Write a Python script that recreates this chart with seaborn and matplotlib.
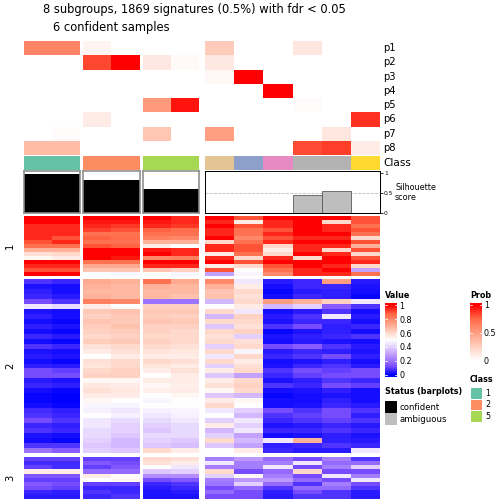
import numpy as np
import matplotlib
matplotlib.use("Agg")
import matplotlib.pyplot as plt
from matplotlib.colors import LinearSegmentedColormap, ListedColormap
from matplotlib.patches import Rectangle
import seaborn as sns

# ---- data ----
title_1 = "8 subgroups, 1869 signatures (0.5%) with fdr < 0.05"
title_2 = "6 confident samples"
prob_labels = ["p1", "p2", "p3", "p4", "p5", "p6", "p7", "p8"]
prob = [
    [.62, .62, .06, 0, 0, 0, .27, 0, 0, .13, 0, 0],
    [0, 0, .83, 1.0, .12, .03, .12, 0, 0, 0, 0, 0],
    [0, 0, 0, 0, 0, 0, .04, 1.0, 0, 0, 0, 0],
    [0, 0, 0, 0, 0, 0, 0, 0, 1.0, 0, 0, 0],
    [0, 0, 0, 0, .52, .95, 0, 0, 0, .02, 0, 0],
    [0, 0, .1, 0, 0, 0, 0, 0, 0, 0, 0, .88],
    [0, .02, 0, 0, .3, 0, .5, 0, 0, 0, .13, 0],
    [.35, .35, 0, 0, 0, 0, 0, 0, 0, .82, .85, .1],
]
sample_class = [1, 1, 2, 2, 5, 5, 7, 3, 4, 8, 8, 6]
silhouette = [.98, .98, .83, .83, .61, .61, 0, 0, 0, .45, .56, 0]
status = ["confident"] * 6 + ["ambiguous"] * 6
col_groups = [[0, 1], [2, 3], [4, 5], [6, 7, 8, 9, 10, 11]]
row_group_labels = ["1", "2", "3"]
legend_classes = ["1", "2", "5"]
value_ticks = [0, 0.2, 0.4, 0.6, 0.8, 1]
prob_ticks = [0, 0.5, 1]

rows_g1 = [
    [1.0, 1.0, 1.0, 1.0, 1.0, .95, 1.0, .9, 1.0, 1.0, 1.0, .9],
    [1.0, 1.0, .97, .97, .97, .95, .95, .55, .95, 1.0, .6, .9],
    [.95, .95, .95, .93, .95, .93, 1.0, .9, .95, 1.0, .95, .85],
    [.95, .95, .92, .9, .88, .86, .95, .85, .9, 1.0, .95, .9],
    [.95, .95, .85, .85, .85, .85, .95, .85, .95, 1.0, 1.0, .85],
    [.95, .9, .88, .86, .82, .8, 1.0, .8, .9, .95, .95, .6],
    [.9, .95, .85, .85, .7, .7, .6, .85, .95, 1.0, 1.0, .9],
    [.85, .85, .9, .88, .55, .5, .95, .9, .6, .95, .95, .7],
    [.7, .7, 1.0, 1.0, .97, .95, .95, .9, .55, .95, .6, .9],
    [.58, .6, 1.0, 1.0, 1.0, .95, .55, .85, .6, 1.0, .95, .6],
    [.52, .55, 1.0, .97, .8, .82, .95, .6, .95, .6, 1.0, .9],
    [1.0, 1.0, .85, .85, 1.0, 1.0, 1.0, .9, 1.0, 1.0, 1.0, .95],
    [.95, .95, .72, .72, .95, .95, .55, .6, .9, 1.0, .95, .6],
    [.9, .9, .65, .65, .65, .62, .9, .5, .85, .95, 1.0, .3],
    [1.0, 1.0, .5, .48, .5, .48, .3, .48, .8, .95, .95, .85],
]
rows_g2 = [
    [.08, .06, .72, .7, .85, .72, .8, .45, .04, .06, .75, .04],
    [.03, .02, .7, .68, .7, .68, .7, .55, .02, .06, .06, .03],
    [.05, .02, .68, .68, .68, .68, .65, .6, .01, .04, .05, .02],
    [.06, .04, .7, .68, .68, .66, .66, .58, .02, .06, .05, .01],
    [.12, .08, .82, .8, .2, .2, .35, .6, .75, .7, .62, .45],
    [.45, .42, .55, .5, .62, .62, .5, .55, .35, .4, .15, .08],
    [.03, .02, .64, .66, .64, .64, .6, .45, .02, .04, .08, .02],
    [.05, .02, .62, .64, .63, .62, .35, .62, .04, .08, .45, .04],
    [.02, .01, .65, .64, .65, .64, .6, .6, .03, .06, .06, .02],
    [.05, .03, .63, .66, .62, .62, .38, .58, .08, .12, .05, .06],
    [.02, .01, .62, .63, .62, .6, .6, .62, .01, .03, .05, .02],
    [.06, .04, .6, .62, .6, .6, .58, .4, .03, .05, .06, .08],
    [.02, .01, .63, .64, .62, .6, .6, .58, .02, .04, .03, .02],
    [.08, .06, .58, .6, .6, .58, .4, .6, .12, .15, .08, .04],
    [.03, .02, .55, .58, .57, .56, .6, .48, .04, .06, .05, .03],
    [.04, .03, .5, .55, .55, .55, .45, .6, .06, .08, .12, .05],
    [.02, .01, .58, .6, .6, .58, .6, .55, .02, .03, .05, .02],
    [.05, .04, .57, .6, .57, .55, .4, .58, .03, .06, .08, .04],
    [.12, .1, .6, .62, .55, .58, .55, .6, .08, .12, .1, .12],
    [.12, .12, .62, .62, .5, .55, .38, .3, .06, .1, .12, .12],
    [.04, .03, .52, .52, .55, .55, .55, .6, .03, .05, .08, .06],
    [.06, .05, .56, .55, .52, .54, .58, .62, .08, .06, .12, .1],
    [.02, .01, .58, .56, .54, .55, .52, .6, .02, .03, .05, .02],
    [.01, .0, .55, .55, .5, .52, .38, .35, .01, .02, .03, .02],
    [.01, .0, .52, .5, .48, .5, .55, .52, .02, .02, .05, .02],
    [.02, .01, .48, .48, .5, .5, .6, .5, .02, .03, .06, .04],
    [.07, .05, .47, .45, .47, .48, .45, .4, .12, .08, .12, .08],
    [.08, .06, .5, .47, .45, .47, .5, .35, .08, .1, .12, .05],
    [.12, .08, .45, .42, .42, .45, .4, .45, .06, .08, .1, .08],
    [.06, .05, .45, .4, .4, .42, .55, .4, .03, .04, .06, .04],
    [.08, .06, .42, .4, .38, .42, .35, .45, .06, .06, .08, .06],
    [.03, .02, .42, .38, .42, .42, .4, .3, .02, .03, .05, .03],
    [.02, .01, .4, .35, .4, .38, .6, .35, .45, .7, .05, .04],
    [.08, .08, .38, .35, .38, .36, .38, .3, .05, .06, .08, .06],
    [.2, .15, .4, .38, .6, .55, .5, .55, .06, .04, .04, .45],
]
rows_g3 = [
    [.1, .1, .1, .1, .6, .58, .22, .28, .18, .12, .22, .08],
    [.07, .07, .14, .12, .58, .55, .45, .22, .22, .45, .18, .18],
    [.1, .07, .1, .14, .5, .45, .22, .22, .45, .12, .22, .4],
    [.55, .55, .18, .18, .38, .4, .6, .12, .18, .6, .12, .12],
    [.14, .14, .55, .5, .25, .25, .4, .52, .22, .12, .45, .22],
    [.1, .1, .5, .52, .12, .14, .22, .28, .28, .18, .12, .45],
    [.14, .12, .1, .1, .06, .08, .2, .4, .18, .08, .22, .12],
    [.12, .1, .06, .06, .04, .06, .12, .18, .08, .18, .18, .08],
    [.06, .05, .08, .06, .03, .04, .18, .12, .05, .12, .08, .04],
    [.04, .04, .06, .08, .03, .03, .12, .12, .04, .08, .08, .04],
]

# ---- colours ----
class_colors = {1: "#66C2A5", 2: "#FC8D62", 3: "#8DA0CB", 4: "#E78AC3",
                5: "#A6D854", 6: "#FFD92F", 7: "#E5C494", 8: "#B3B3B3"}
status_colors = {"confident": "black", "ambiguous": "#BEBEBE"}
value_cmap = LinearSegmentedColormap.from_list("val", [
    (0, "#0000FF"), (.125, "#7E51FF"), (.25, "#B28BFF"), (.375, "#DCC4FF"),
    (.5, "#FFFFFF"), (.625, "#FFCFBF"), (.75, "#FF9E81"), (.875, "#FF6846"),
    (1, "#FF0000")])
prob_cmap = LinearSegmentedColormap.from_list("prob", [
    (0, "#FFFFFF"), (.25, "#FFCFBF"), (.5, "#FF9E81"), (.75, "#FF6846"),
    (1, "#FF0000")])

# ---- layout (pixels) ----
W = H = 504
fig = plt.figure(figsize=(7, 7), dpi=72, facecolor="white")


def px_axes(x0, y0, x1, y1):
    return fig.add_axes([x0 / W, 1 - y1 / H, (x1 - x0) / W, (y1 - y0) / H])


overlay = px_axes(0, 0, W, H)
overlay.set_xlim(0, W)
overlay.set_ylim(H, 0)
overlay.axis("off")

col_spans = [(24, 80), (83, 139.5), (143, 199), (205, 380)]
row_spans = [(216, 276), (279, 453), (457, 498.5)]
prob_arr = np.array(prob)
class_arr = np.array(sample_class)
order = sorted(class_colors)
class_cmap = ListedColormap([class_colors[k] for k in order])

fig.text(43 / W, 1 - 10 / H, title_1, fontsize=11.5, va="center", ha="left")
fig.text(53 / W, 1 - 28 / H, title_2, fontsize=11.5, va="center", ha="left")

for gi, cols in enumerate(col_groups):
    x0, x1 = col_spans[gi]
    # probability rows
    ax = px_axes(x0, 41, x1, 155)
    sns.heatmap(prob_arr[:, cols], ax=ax, cmap=prob_cmap, vmin=0, vmax=1,
                cbar=False, xticklabels=False, yticklabels=False)
    # class row
    ax = px_axes(x0, 155.5, x1, 170)
    idx = np.array([[order.index(c) for c in class_arr[cols]]])
    sns.heatmap(idx, ax=ax, cmap=class_cmap, vmin=-0.5, vmax=len(order) - 0.5,
                cbar=False, xticklabels=False, yticklabels=False)
    # silhouette barplot
    ax = px_axes(x0, 171, x1, 213.3)
    vals = [silhouette[c] for c in cols]
    colors = [status_colors[status[c]] for c in cols]
    last = gi == len(col_groups) - 1
    ax.bar(np.arange(len(cols)), vals, width=1.0, color=colors,
           edgecolor="#555555" if last else "none", lw=0.8)
    ax.set_xlim(-0.5, len(cols) - 0.5)
    ax.set_ylim(0, 1.06)
    ax.set_xticks([])
    for s in ax.spines.values():
        s.set_color("black" if last else "#8C8C8C")
        s.set_linewidth(1.0 if last else 1.6)
    if last:
        ax.axhline(0.5, color="#BBBBBB", ls="--", lw=0.8, zorder=0)
        ax.yaxis.tick_right()
        ax.set_yticks([0, 0.5, 1])
        ax.set_yticklabels(["0", "0.5", "1"], fontsize=6)
        ax.tick_params(axis="y", length=2.5, pad=1.5)
    else:
        ax.set_yticks([])
    # main heatmap blocks
    for ri, rows in enumerate([rows_g1, rows_g2, rows_g3]):
        y0, y1 = row_spans[ri]
        ax = px_axes(x0, y0, x1, y1)
        sns.heatmap(np.array(rows)[:, cols], ax=ax, cmap=value_cmap,
                    vmin=0, vmax=1, cbar=False,
                    xticklabels=False, yticklabels=False)

for i, lab in enumerate(prob_labels):
    overlay.text(383, 48.1 + 14.25 * i, lab, fontsize=10, va="center")
overlay.text(383, 163, "Class", fontsize=10.5, va="center")
overlay.text(395, 192.5, "Silhouette\nscore", fontsize=8, va="center",
             linespacing=1.0)

for ri, lab in enumerate(row_group_labels):
    y0, y1 = row_spans[ri]
    overlay.text(10, (y0 + y1) / 2, lab, fontsize=10, rotation=90,
                 ha="center", va="center")


def color_bar(x0, y0, x1, y1, cmap, ticks):
    ax = px_axes(x0, y0, x1, y1)
    grad = np.linspace(1.03, -0.03, 200)[:, None]
    ax.imshow(np.clip(grad, 0, 1), aspect="auto", cmap=cmap, vmin=0, vmax=1,
              extent=[0, 1, -0.03, 1.03])
    for v in ticks:
        ax.plot([0, 0.2], [v, v], color="white", lw=0.8)
        ax.plot([0.8, 1], [v, v], color="white", lw=0.8)
    ax.set_xlim(0, 1)
    ax.set_ylim(-0.03, 1.03)
    ax.set_xticks([])
    ax.yaxis.tick_right()
    ax.set_yticks(ticks)
    ax.set_yticklabels([f"{t:g}" for t in ticks], fontsize=8)
    ax.tick_params(axis="y", length=0, pad=2)
    for s in ax.spines.values():
        s.set_visible(False)


overlay.text(385, 295, "Value", fontsize=8, fontweight="bold", va="center")
color_bar(385, 303, 397, 377, value_cmap, value_ticks)
overlay.text(470, 295, "Prob", fontsize=8, fontweight="bold", va="center")
color_bar(470, 303, 482, 362, prob_cmap, prob_ticks)

overlay.text(470, 380, "Class", fontsize=8, fontweight="bold", va="center")
for i, c in enumerate(legend_classes):
    y = 388 + 11.7 * i
    overlay.add_patch(Rectangle((471, y), 10, 9.5, color=class_colors[int(c)]))
    overlay.text(485, y + 5, c, fontsize=8, va="center")

overlay.text(385, 392, "Status (barplots)", fontsize=8, fontweight="bold",
             va="center")
for i, (name, col) in enumerate(status_colors.items()):
    y = 401 + 12 * i
    overlay.add_patch(Rectangle((385, y), 11, 11, color=col))
    overlay.text(400, y + 6, name, fontsize=8.5, va="center")

fig.savefig("out.png", dpi=72, facecolor="white")
